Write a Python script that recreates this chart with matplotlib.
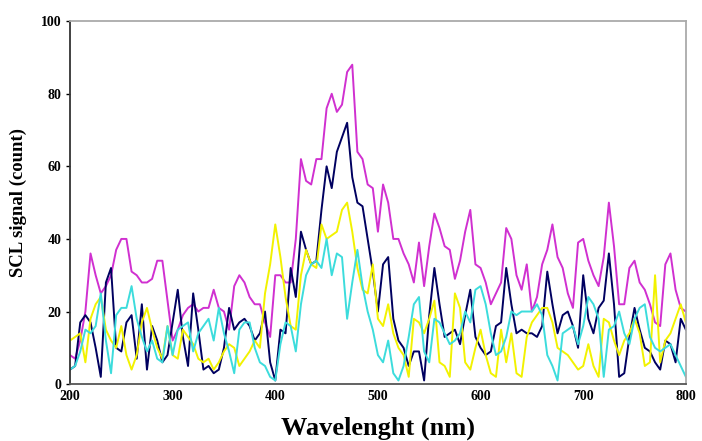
import matplotlib
matplotlib.use('Agg')
import matplotlib.pyplot as plt
import numpy as np

plt.rcParams['font.family'] = ['Liberation Serif', 'DejaVu Serif']

# wavelength grid (nm), 5 nm steps
wavelength = np.arange(200, 801, 5)

magenta = [8, 7, 12, 20, 36, 30, 25, 27, 30, 37, 40, 40, 31, 30, 28, 28, 29, 34, 34, 23,
           12, 15, 19, 21, 22, 20, 21, 21, 26, 21, 20, 15, 27, 30, 28, 24, 22, 22, 17, 13,
           30, 30, 28, 28, 40, 62, 56, 55, 62, 62, 76, 80, 75, 77, 86, 88, 64, 62, 55, 54,
           42, 55, 50, 40, 40, 36, 33, 28, 39, 27, 38, 47, 43, 38, 37, 29, 34, 42, 48, 33,
           32, 28, 22, 25, 28, 43, 40, 30, 26, 33, 20, 24, 33, 37, 44, 35, 32, 25, 21, 39,
           40, 34, 30, 27, 35, 50, 38, 22, 22, 32, 34, 28, 26, 22, 17, 16, 33, 36, 26, 21,
           20]

navy = [4, 5, 17, 19, 17, 10, 2, 28, 32, 10, 9, 17, 19, 7, 22, 4, 16, 12, 6, 8,
        17, 26, 13, 5, 25, 15, 4, 5, 3, 4, 10, 21, 15, 17, 18, 16, 12, 14, 20, 6,
        1, 15, 14, 32, 24, 42, 37, 33, 34, 48, 60, 54, 64, 68, 72, 57, 50, 49, 40, 31,
        20, 33, 35, 18, 12, 10, 5, 9, 9, 1, 19, 32, 22, 13, 14, 15, 11, 19, 26, 13,
        10, 8, 9, 16, 17, 32, 22, 14, 15, 14, 14, 13, 16, 31, 22, 14, 19, 20, 16, 10,
        30, 18, 14, 21, 23, 36, 22, 2, 3, 13, 21, 15, 10, 9, 6, 4, 12, 11, 6, 18,
        15]

yellow = [12, 13, 14, 6, 18, 22, 24, 15, 12, 10, 16, 8, 4, 8, 17, 21, 15, 10, 7, 16,
          8, 7, 15, 13, 11, 7, 6, 7, 4, 6, 9, 11, 10, 5, 7, 9, 12, 10, 25, 33,
          44, 35, 24, 16, 15, 30, 37, 33, 32, 44, 40, 41, 42, 48, 50, 42, 32, 26, 25, 33,
          18, 16, 22, 14, 10, 8, 2, 18, 17, 14, 18, 23, 6, 5, 2, 25, 21, 6, 4, 10,
          15, 8, 3, 2, 15, 6, 14, 3, 2, 13, 17, 19, 21, 21, 17, 10, 9, 8, 6, 4,
          5, 11, 5, 2, 18, 17, 12, 8, 12, 14, 18, 14, 5, 6, 30, 6, 12, 14, 18, 22,
          17]

cyan = [4, 5, 9, 15, 14, 16, 25, 12, 3, 19, 21, 21, 27, 18, 13, 9, 12, 7, 6, 16,
        8, 15, 16, 17, 9, 14, 16, 18, 12, 21, 14, 9, 3, 15, 17, 17, 10, 6, 5, 2,
        1, 11, 17, 16, 9, 22, 30, 33, 34, 32, 40, 30, 36, 35, 18, 28, 37, 27, 20, 15,
        8, 6, 12, 3, 1, 5, 13, 22, 24, 9, 6, 18, 17, 14, 11, 12, 14, 20, 17, 26,
        27, 22, 14, 8, 9, 13, 20, 19, 20, 20, 20, 22, 19, 8, 5, 1, 14, 15, 16, 11,
        16, 24, 22, 18, 2, 15, 16, 20, 14, 11, 18, 21, 22, 13, 10, 9, 10, 11, 8, 5,
        2]

series = [(magenta, '#d030d0'), (navy, '#000060'), (yellow, '#f2f200'), (cyan, '#3cdcdc')]

fig = plt.figure(figsize=(7.02, 4.41), dpi=100)
ax = fig.add_axes([0.0997, 0.129, 0.8773, 0.823])

for vals, col in series:
    ax.plot(wavelength, vals, color=col, lw=1.4)

ax.set_xlim(200, 800)
ax.set_ylim(0, 100)
ax.set_xticks(range(200, 801, 100))
ax.set_yticks(range(0, 101, 20))

for lab in ax.get_xticklabels() + ax.get_yticklabels():
    lab.set_fontweight('bold')
    lab.set_fontsize(10)
ax.tick_params(axis='x', length=0, pad=4)
ax.tick_params(axis='y', length=3, width=1, pad=3)

ax.spines['left'].set_color('#333333')
ax.spines['bottom'].set_color('#555555')
ax.spines['top'].set_color('#aaaaaa')
ax.spines['right'].set_color('#aaaaaa')
for s in ax.spines.values():
    s.set_linewidth(1.3)

ax.set_xlabel('Wavelenght (nm)', fontsize=19, fontweight='bold', labelpad=10)
ax.set_ylabel('SCL signal (count)', fontsize=13.5, fontweight='bold', labelpad=10)

fig.savefig('out.png', dpi=100)
